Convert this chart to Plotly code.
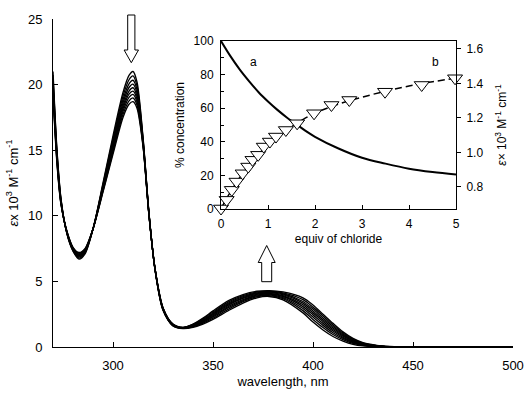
import plotly.graph_objects as go

# ---------------- main panel data (wavelength, nm ; epsilon x 10^3) ----------------
wavelength = [270, 272, 274, 277, 280, 283, 286, 290, 295, 300, 305, 308, 310, 312, 315,
              318, 321, 325, 330, 335, 340, 345, 350, 358, 365, 372, 378, 385, 395, 400,
              405, 410, 415, 420, 425, 435, 445, 500]

spec_0 = [21.0, 15.0, 11.3, 8.6, 7.3, 6.7, 7.1, 9.0, 12.5, 16.1, 19.4, 20.7, 21.0, 20.2, 16.0,
          10.2, 5.9, 2.8, 1.6, 1.4, 1.5, 1.75, 2.1, 2.8, 3.35, 3.75, 3.85, 3.6, 2.6, 1.9,
          1.3, 0.8, 0.45, 0.2, 0.08, 0.01, 0.0, 0.0]
spec_1 = [20.73, 14.85, 11.24, 8.63, 7.35, 6.78, 7.16, 9.0, 12.4, 15.89, 19.12, 20.37, 20.66, 19.9, 15.9,
          10.17, 5.92, 2.83, 1.62, 1.42, 1.54, 1.82, 2.2, 2.91, 3.45, 3.83, 3.92, 3.69, 2.77, 2.1,
          1.48, 0.95, 0.56, 0.27, 0.12, 0.02, 0.0, 0.0]
spec_2 = [20.48, 14.7, 11.18, 8.66, 7.39, 6.85, 7.22, 9.0, 12.3, 15.69, 18.85, 20.06, 20.33, 19.62, 15.8,
          10.14, 5.93, 2.86, 1.64, 1.43, 1.57, 1.88, 2.29, 3.02, 3.54, 3.9, 3.98, 3.77, 2.93, 2.28,
          1.65, 1.09, 0.65, 0.33, 0.15, 0.03, 0.0, 0.0]
spec_3 = [20.24, 14.56, 11.12, 8.68, 7.43, 6.91, 7.27, 9.0, 12.21, 15.51, 18.6, 19.78, 20.03, 19.36, 15.71,
          10.12, 5.94, 2.88, 1.66, 1.44, 1.6, 1.94, 2.37, 3.12, 3.62, 3.96, 4.04, 3.85, 3.08, 2.45,
          1.8, 1.22, 0.74, 0.39, 0.18, 0.04, 0.0, 0.0]
spec_4 = [20.03, 14.43, 11.06, 8.71, 7.46, 6.97, 7.32, 9.0, 12.12, 15.34, 18.37, 19.51, 19.76, 19.12, 15.62,
          10.09, 5.95, 2.91, 1.68, 1.45, 1.64, 1.99, 2.45, 3.21, 3.7, 4.02, 4.09, 3.92, 3.22, 2.6,
          1.95, 1.34, 0.83, 0.44, 0.22, 0.04, 0.01, 0.0]
spec_5 = [19.83, 14.31, 11.0, 8.73, 7.5, 7.03, 7.36, 9.0, 12.04, 15.19, 18.16, 19.27, 19.5, 18.9, 15.54,
          10.07, 5.97, 2.93, 1.7, 1.47, 1.66, 2.04, 2.52, 3.29, 3.77, 4.08, 4.14, 3.99, 3.35, 2.75,
          2.08, 1.45, 0.91, 0.49, 0.24, 0.05, 0.01, 0.0]
spec_6 = [19.63, 14.2, 10.95, 8.75, 7.53, 7.08, 7.4, 9.0, 11.97, 15.04, 17.96, 19.03, 19.25, 18.68, 15.47,
          10.05, 5.98, 2.95, 1.71, 1.48, 1.69, 2.09, 2.59, 3.37, 3.84, 4.13, 4.19, 4.06, 3.47, 2.89,
          2.21, 1.56, 0.98, 0.54, 0.27, 0.06, 0.01, 0.0]
spec_7 = [19.42, 14.08, 10.9, 8.78, 7.56, 7.14, 7.45, 9.0, 11.88, 14.87, 17.73, 18.76, 18.98, 18.44, 15.38,
          10.02, 5.99, 2.98, 1.73, 1.49, 1.72, 2.15, 2.67, 3.46, 3.92, 4.19, 4.25, 4.13, 3.61, 3.04,
          2.36, 1.68, 1.07, 0.6, 0.3, 0.06, 0.01, 0.0]
spec_8 = [19.2, 13.95, 10.85, 8.8, 7.6, 7.2, 7.5, 9.0, 11.8, 14.7, 17.5, 18.5, 18.7, 18.2, 15.3,
          10.0, 6.0, 3.0, 1.75, 1.5, 1.75, 2.2, 2.75, 3.55, 4.0, 4.25, 4.3, 4.2, 3.75, 3.2,
          2.5, 1.8, 1.15, 0.65, 0.33, 0.07, 0.01, 0.0]

spectra = [spec_0, spec_1, spec_2, spec_3, spec_4, spec_5, spec_6, spec_7, spec_8]

main_xticks = [300, 350, 400, 450, 500]
main_yticks = [0, 5, 10, 15, 20, 25]

# ---------------- inset data ----------------
equiv_fit = [0, 0.2, 0.4, 0.6, 0.8, 1.0, 1.2, 1.4, 1.6, 1.8, 2.0, 2.5, 3.0, 3.5, 4.0, 4.5, 5.0]
pct_a = [100, 91, 83, 76, 69.5, 64, 59, 54.5, 50.5, 46.5, 43, 36, 30.5, 27, 24, 22, 20.5]
eps_fit_b = [0.675, 0.77, 0.855, 0.925, 0.99, 1.045, 1.09, 1.13, 1.167, 1.2, 1.228, 1.28, 1.32,
             1.355, 1.385, 1.41, 1.43]

equiv_obs = [0, 0.12, 0.23, 0.33, 0.46, 0.58, 0.67, 0.79, 0.91, 1.04, 1.17, 1.38, 1.62, 1.98,
             2.35, 2.73, 3.49, 4.27, 4.98]
eps_obs_b = [0.675, 0.725, 0.783, 0.831, 0.879, 0.918, 0.957, 0.986, 1.034, 1.063, 1.092, 1.130,
             1.169, 1.227, 1.275, 1.304, 1.352, 1.391, 1.430]

FONT = "Arial, Liberation Sans, sans-serif"

fig = go.Figure()

for s in spectra:
    fig.add_trace(go.Scatter(x=wavelength, y=s, mode="lines",
                             line=dict(color="black", width=1.35, shape="spline", smoothing=0.8),
                             showlegend=False, hoverinfo="skip", xaxis="x", yaxis="y"))

# inset: dashed fit (b), triangles, solid curve (a)
fig.add_trace(go.Scatter(x=equiv_fit, y=eps_fit_b, mode="lines",
                         line=dict(color="black", width=1.5, dash="7px,4px", shape="spline"),
                         showlegend=False, xaxis="x2", yaxis="y3"))
fig.add_trace(go.Scatter(x=equiv_obs, y=eps_obs_b, mode="markers",
                         marker=dict(symbol="triangle-down", size=13, color="white",
                                     line=dict(color="black", width=1)),
                         cliponaxis=False, showlegend=False, xaxis="x2", yaxis="y3"))
fig.add_trace(go.Scatter(x=equiv_fit, y=pct_a, mode="lines",
                         line=dict(color="black", width=2, shape="spline"),
                         showlegend=False, xaxis="x2", yaxis="y2"))

axis_common = dict(showline=True, linecolor="black", linewidth=1, showgrid=False,
                   zeroline=False, tickcolor="black", ticks="inside", automargin=False,
                   tickfont=dict(family=FONT, size=13, color="black"))

L, R, T, B = 53, 12, 19, 47
W, H = 525, 394
pw, ph = W - L - R, H - T - B

def px(x):
    return (x - L) / pw

def py(y):
    return (H - B - y) / ph

ix0, ix1 = px(221), px(456)
iy0, iy1 = py(209), py(41)

fig.update_layout(
    width=W, height=H,
    margin=dict(l=L, r=R, t=T, b=B, autoexpand=False),
    paper_bgcolor="white", plot_bgcolor="white",
    font=dict(family=FONT, size=12, color="black"),
    xaxis=dict(**axis_common, range=[270, 500], tickvals=main_xticks, ticklen=5,
               ticklabelstandoff=6,
               title=dict(text="wavelength, nm", font=dict(family=FONT, size=13, color="black"),
                          standoff=5)),
    yaxis=dict(**axis_common, range=[0, 25], tickvals=main_yticks, ticklen=5,
               ticklabelstandoff=7,
               title=dict(text="<i>ε</i>x 10<sup>3</sup> M<sup>-1</sup> cm<sup>-1</sup>",
                          font=dict(family=FONT, size=13, color="black"), standoff=6)),
    xaxis2=dict(showline=True, linecolor="black", linewidth=1, mirror=True, showgrid=False,
                zeroline=False, ticks="inside", ticklen=4, tickcolor="black", automargin=False,
                range=[0, 5], tickvals=[0, 1, 2, 3, 4, 5], anchor="y2",
                domain=[ix0, ix1], ticklabelstandoff=4,
                tickfont=dict(family=FONT, size=12, color="black"),
                title=dict(text="equiv of chloride", font=dict(family=FONT, size=12, color="black"),
                           standoff=4)),
    yaxis2=dict(showline=True, linecolor="black", linewidth=1, showgrid=False,
                zeroline=False, ticks="inside", ticklen=4, tickcolor="black", automargin=False,
                range=[0, 100], tickvals=[0, 20, 40, 60, 80, 100], anchor="x2",
                domain=[iy0, iy1], ticklabelstandoff=4,
                minor=dict(ticks="inside", dtick=10, ticklen=3, tickcolor="black"),
                tickfont=dict(family=FONT, size=12, color="black"),
                title=dict(text="% concentration", font=dict(family=FONT, size=12, color="black"),
                           standoff=6)),
    yaxis3=dict(showline=True, linecolor="black", linewidth=1, showgrid=False,
                zeroline=False, ticks="outside", ticklen=4, tickcolor="black", automargin=False,
                range=[0.672, 1.646], tickvals=[0.8, 1.0, 1.2, 1.4, 1.6],
                ticktext=["0.8", "1.0", "1.2", "1.4", "1.6"],
                overlaying="y2", side="right", anchor="x2", ticklabelstandoff=3,
                tickfont=dict(family=FONT, size=12, color="black"),
                title=dict(text="<i>ε</i>× 10<sup>3</sup> M<sup>-1</sup> cm<sup>-1</sup>",
                           font=dict(family=FONT, size=12, color="black"), standoff=15)),
)

# labels a / b in inset
fig.add_annotation(x=0.7, y=87.5, xref="x2", yref="y2", text="a", showarrow=False,
                   font=dict(family=FONT, size=12, color="black"))
fig.add_annotation(x=4.57, y=87.5, xref="x2", yref="y2", text="b", showarrow=False,
                   font=dict(family=FONT, size=12, color="black"))

# hollow block arrows (decorations)
def arrow_path(cx, half_shaft, half_head, y_tail, y_head_base, y_tip):
    return (f"M {cx-half_shaft} {y_tail} L {cx+half_shaft} {y_tail} "
            f"L {cx+half_shaft} {y_head_base} L {cx+half_head} {y_head_base} "
            f"L {cx} {y_tip} L {cx-half_head} {y_head_base} L {cx-half_shaft} {y_head_base} Z")

down = arrow_path(px(131.3), 3.6 / pw, 7.2 / pw, py(15), py(50), py(62.7))
up = arrow_path(px(266.7), 5.0 / pw, 8.5 / pw, py(281.7), py(262.5), py(245.5))
for p in (down, up):
    fig.add_shape(type="path", path=p, xref="paper", yref="paper",
                  line=dict(color="black", width=1), fillcolor="white", layer="above")

fig.write_html("out.html")
